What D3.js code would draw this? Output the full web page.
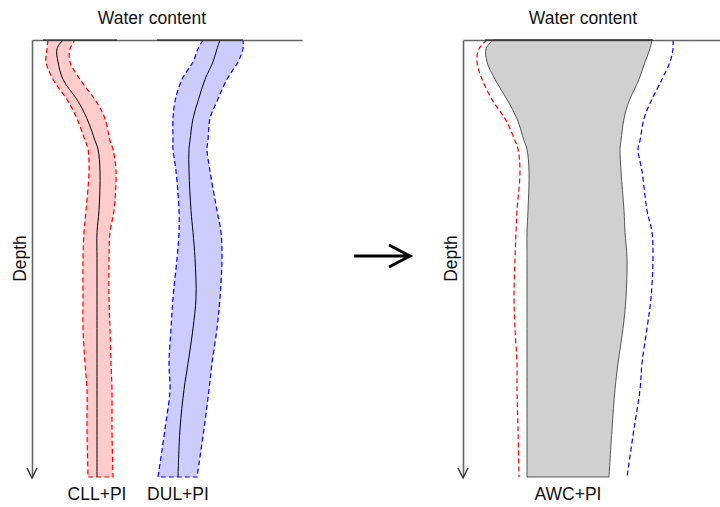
<!DOCTYPE html>
<html>
<head>
<meta charset="utf-8">
<script src="https://cdn.jsdelivr.net/npm/d3@7"></script>
<style>
  body { margin: 0; background: #fff; }
  text { font-family: "Liberation Sans", Arial, sans-serif; fill: #111; font-size: 17.5px; }
</style>
</head>
<body>
<svg id="chart" width="720" height="507"></svg>
<script>
// depth (0 = surface, 100 = bottom of profile)
const depth = [0, 2, 5, 9, 14, 18, 23, 25, 30, 39, 44, 50, 59, 66, 74, 80, 89, 100]

// left panel: crop lower limit and drained upper limit with prediction intervals (water content, %)
const cllMid = [6.2, 5.0, 5.2, 6.2, 9.2, 11.0, 12.6, 13.2, 13.6, 13.4, 13.0, 13.0, 13.0, 13.0, 13.0, 13.0, 13.0, 13.0]
const cllLo  = [3.2, 3.0, 2.8, 4.2, 7.2, 9.0, 10.6, 11.2, 11.4, 10.8, 10.4, 10.2, 10.2, 10.2, 10.6, 11.0, 11.0, 11.2]
const cllHi  = [8.6, 7.6, 7.6, 9.6, 12.8, 14.6, 15.6, 16.2, 16.8, 16.4, 15.6, 15.4, 15.4, 15.6, 15.8, 16.0, 16.0, 16.2]
const dulMid = [37.6, 37.0, 36.2, 34.6, 33.2, 32.2, 31.6, 31.4, 31.4, 31.8, 32.2, 32.6, 32.8, 32.2, 31.2, 30.4, 29.6, 29.2]
const dulLo  = [34.2, 33.2, 32.2, 30.0, 28.6, 28.2, 28.2, 28.2, 28.8, 29.4, 29.4, 29.0, 28.2, 27.8, 27.4, 27.6, 26.6, 25.2]
const dulHi  = [42.2, 42.2, 41.2, 39.0, 37.0, 35.6, 35.2, 35.0, 35.6, 37.0, 37.8, 38.0, 37.6, 37.0, 36.0, 35.4, 34.4, 33.0]

// right panel: available water capacity band with PI limits
const awcLo   = [6.0, 4.6, 4.8, 6.4, 9.0, 10.8, 12.2, 12.8, 13.2, 13.0, 12.8, 12.8, 12.8, 12.8, 12.8, 12.8, 12.8, 12.8]
const awcHi   = [37.8, 37.4, 36.4, 35.2, 33.2, 32.2, 31.6, 31.4, 31.6, 32.2, 32.4, 32.8, 32.6, 32.0, 31.0, 30.4, 29.8, 29.2]
const cllPiHi = [4.8, 3.2, 2.8, 3.8, 6.0, 8.4, 10.4, 11.0, 11.4, 10.8, 10.6, 10.4, 10.2, 10.4, 10.8, 10.8, 11.0, 11.2]
const dulPiLo = [42.0, 42.0, 41.4, 39.8, 37.6, 36.2, 35.4, 35.0, 35.8, 36.8, 37.8, 38.0, 37.6, 36.8, 35.8, 35.4, 34.2, 32.8]

// dark stretches of the surface line (water content range)
const topLeft = [[2.2, 17.0], [25.0, 42.2]]
const topRight = [[4.4, 38.0]]

const labelsLeft = ["CLL+PI", "DUL+PI"]
const labelRight = "AWC+PI"

const svg = d3.select('#chart')

const y = d3.scaleLinear().domain([0, 100]).range([40, 477])
const xL = d3.scaleLinear().domain([0, 54]).range([32, 302])
const xR = d3.scaleLinear().domain([0, 54]).range([463, 733])

const rows = (cols) => depth.map((d, i) => {
  const r = { depth: d }
  for (const k in cols) r[k] = cols[k][i]
  return r
})

const curve = d3.curveCatmullRom.alpha(0.5)
const dash = "5,3"

function band(x, lo, hi, fill, stroke, mid) {
  const data = rows({ lo: lo, hi: hi, mid: mid })
  svg.append("path")
    .datum(data)
    .attr("fill", fill)
    .attr("d", d3.area().y(d => y(d.depth)).x0(d => x(d.lo)).x1(d => x(d.hi)).curve(curve))

  // dashed outline: down the low side, across the bottom, up the high side
  const down = d3.line().y(d => y(d.depth)).x(d => x(d.lo)).curve(curve)(data)
  const up = d3.line().y(d => y(d.depth)).x(d => x(d.hi)).curve(curve)(data.slice().reverse())
  svg.append("path")
    .attr("fill", "none")
    .attr("stroke", stroke)
    .attr("stroke-width", 1.2)
    .attr("stroke-dasharray", dash)
    .attr("d", down + "L" + up.slice(1))

  svg.append("path")
    .datum(data)
    .attr("fill", "none")
    .attr("stroke", "#000")
    .attr("stroke-width", 1)
    .attr("d", d3.line().y(d => y(d.depth)).x(d => x(d.mid)).curve(curve))
}

function dashed(x, vals, stroke) {
  svg.append("path")
    .datum(rows({ v: vals }))
    .attr("fill", "none")
    .attr("stroke", stroke)
    .attr("stroke-width", 1.2)
    .attr("stroke-dasharray", dash)
    .attr("d", d3.line().y(d => y(d.depth)).x(d => x(d.v)).curve(curve))
}

function axes(x, title, dark) {
  const top = svg.append("g")
    .attr("transform", "translate(0," + y(0) + ")")
    .call(d3.axisTop(x).tickValues([]).tickSizeOuter(0))
  top.select(".domain").attr("stroke", "#666").attr("stroke-width", 1.6)

  svg.selectAll(null)
    .data(dark)
    .enter().append("line")
    .attr("x1", d => x(d[0])).attr("x2", d => x(d[1]))
    .attr("y1", y(0)).attr("y2", y(0))
    .attr("stroke", "#111")
    .attr("stroke-width", 1.2)

  const left = svg.append("g")
    .attr("transform", "translate(" + x(0) + ",0)")
    .call(d3.axisLeft(y).tickValues([]).tickSizeOuter(0))
  left.select(".domain").attr("stroke", "#666").attr("stroke-width", 1.6)

  const tip = y(100) + 1
  svg.append("path")
    .attr("fill", "none")
    .attr("stroke", "#333")
    .attr("stroke-width", 1.4)
    .attr("d", "M" + (x(0) - 5) + "," + (tip - 10) + "L" + x(0) + "," + tip + "L" + (x(0) + 5) + "," + (tip - 10))

  svg.append("text")
    .attr("x", x(24)).attr("y", 24)
    .attr("text-anchor", "middle")
    .text(title)

  svg.append("text")
    .attr("transform", "translate(" + (x(0) - 6) + "," + ((y(0) + y(100)) / 2) + ") rotate(-90)")
    .attr("text-anchor", "middle")
    .text("Depth")
}

// left panel
band(xL, cllLo, cllHi, "#ffcccc", "#ff0000", cllMid)
band(xL, dulLo, dulHi, "#ccccff", "#0000ff", dulMid)
axes(xL, "Water content", topLeft)

const last = depth.length - 1
svg.append("text").attr("x", xL(cllMid[last])).attr("y", 500).attr("text-anchor", "middle").text(labelsLeft[0])
svg.append("text").attr("x", xL(dulMid[last])).attr("y", 500).attr("text-anchor", "middle").text(labelsLeft[1])

// right panel
svg.append("path")
  .datum(rows({ lo: awcLo, hi: awcHi }))
  .attr("fill", "#d0d0d0")
  .attr("stroke", "#555")
  .attr("stroke-width", 1)
  .attr("d", d3.area().y(d => y(d.depth)).x0(d => xR(d.lo)).x1(d => xR(d.hi)).curve(curve))
dashed(xR, cllPiHi, "#ff0000")
dashed(xR, dulPiLo, "#0000ff")
axes(xR, "Water content", topRight)
svg.append("text").attr("x", (xR(awcLo[last]) + xR(awcHi[last])) / 2).attr("y", 500)
  .attr("text-anchor", "middle").text(labelRight)

// transition arrow between panels
svg.append("path")
  .attr("fill", "none")
  .attr("stroke", "#000")
  .attr("stroke-width", 3)
  .attr("d", "M354,256L410,256M389,245L410,256L389,267")
</script>
</body>
</html>
